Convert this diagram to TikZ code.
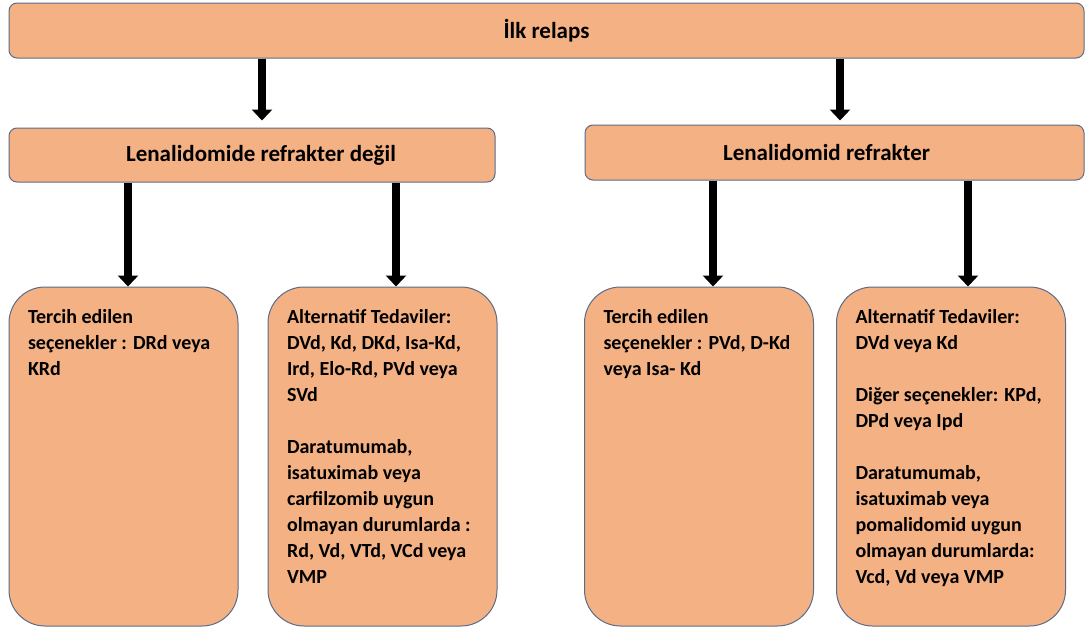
\documentclass[tikz,border=0pt]{standalone}
\usepackage{fontspec}
\setmainfont{Carlito}
\usetikzlibrary{arrows.meta}
\definecolor{boxfill}{RGB}{244,177,131}
\definecolor{boxline}{RGB}{92,107,135}
\newcommand{\optlines}[1]{\parbox[c][295pt][t]{191pt}{\fontsize{20}{26}\selectfont\bfseries #1}}

\begin{document}
\begin{tikzpicture}[x=1pt,y=-1pt,
    box/.style={draw=boxline, fill=boxfill, line width=1pt, rounded corners=8pt, font=\fontsize{23}{28}\selectfont\bfseries, inner sep=0pt},
    optbox/.style={box, rounded corners=36pt, inner xsep=19pt, inner ysep=22pt, minimum width=229pt, minimum height=339pt},
    arr/.style={line width=8pt, -{Triangle[width=20pt,length=11pt]}}]
                \useasboundingbox (0,0) rectangle (1086,632);

                \node[box, minimum width=1075pt, minimum height=55pt] (relaps) at (546.5,30.5) {İlk relaps};
                \node[box, minimum width=486pt, minimum height=54pt] (lenno) at (252,155) {\hspace*{18pt}Lenalidomide refrakter değil};
                \node[box, minimum width=499pt, minimum height=55pt] (lenref) at (834.5,152.5) {Lenalidomid refrakter\hspace*{16pt}};

                \node[optbox] (tercihA) at (123.5,456.5) {\optlines{Tercih edilen\\ seçenekler : DRd veya\\ KRd}};
                \node[optbox] (altA) at (382.5,456.5) {\optlines{Alternatif Tedaviler:\\ DVd, Kd, DKd, Isa-Kd,\\ Ird, Elo-Rd, PVd veya\\ SVd\\[26pt] Daratumumab,\\ isatuximab veya\\ carfilzomib uygun\\ olmayan durumlarda :\\ Rd, Vd, VTd, VCd veya\\ VMP}};
                \node[optbox] (tercihB) at (699,456.5) {\optlines{Tercih edilen\\ seçenekler : PVd, D-Kd\\ veya Isa- Kd}};
                \node[optbox] (altB) at (951,456.5) {\optlines{Alternatif Tedaviler:\\ DVd veya Kd\\[26pt] Diğer seçenekler: KPd,\\ DPd veya Ipd\\[26pt] Daratumumab,\\ isatuximab veya\\ pomalidomid uygun\\ olmayan durumlarda:\\ Vcd, Vd veya VMP}};

                \draw[arr, shorten >=7pt] (relaps.south -| 262,0) to (lenno.north -| 262,0); \draw[arr, shorten >=4pt] (relaps.south -| 840,0) to (lenref.north -| 840,0);
                \draw[arr] (lenno.south -| 128,0) to (tercihA.north -| 128,0); \draw[arr] (lenno.south -| 396,0) to (altA.north -| 396,0);
                \draw[arr] (lenref.south -| 713,0) to (tercihB.north -| 713,0); \draw[arr] (lenref.south -| 968,0) to (altB.north -| 968,0);
            \end{tikzpicture}
\end{document}
